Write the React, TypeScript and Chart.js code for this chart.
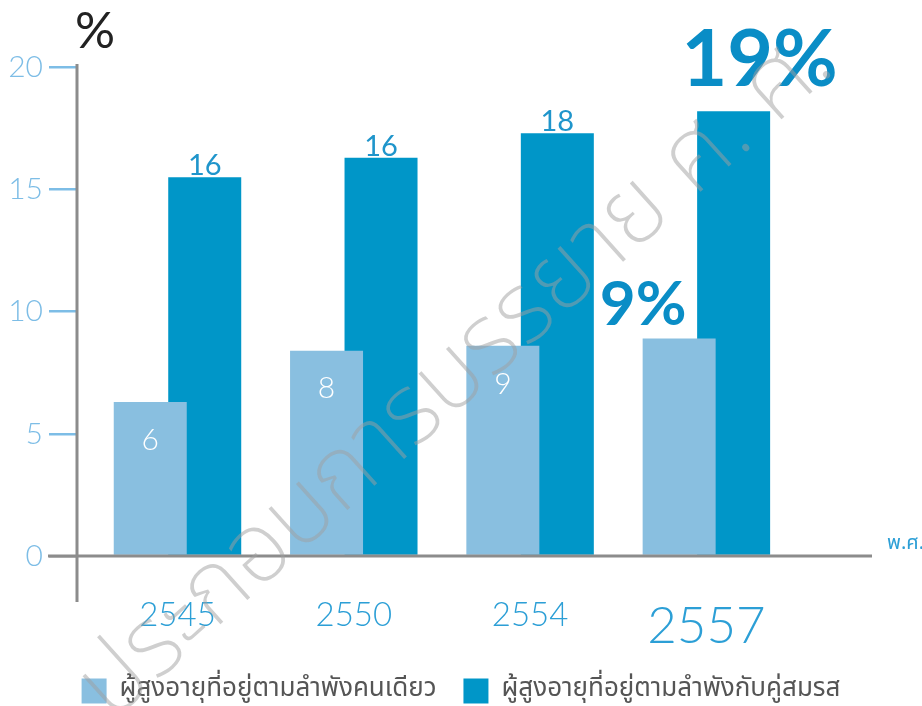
import React, { useEffect, useRef } from "react";
import { Chart, registerables } from "chart.js";

Chart.register(...registerables);

// ---- data ----
const years = ["2545", "2550", "2554", "2557"];
const livingAlone = [6.3, 8.4, 8.6, 8.9];
const withSpouse = [15.5, 16.3, 17.3, 18.2];
const aloneLabels = ["6", "8", "9", "9%"];
const spouseLabels = ["16", "16", "18", "19%"];
const seriesNames = [
  "ผู้สูงอายุที่อยู่ตามลำพังคนเดียว",
  "ผู้สูงอายุที่อยู่ตามลำพังกับคู่สมรส",
];
const yTicks = [0, 5, 10, 15, 20];
const highlightIndex = 3;
const unitLabel = "%";
const xUnitLabel = "พ.ศ.";
const watermarkText = "ประกอบการบรรยาย ศ. ศ.";

// ---- styles ----
const LIGHT = "#89bfe0";
const DARK = "#0096c8";
const TICK_BLUE = "#7dbde6";
const YEAR_BLUE = "#2c9fd6";
const LABEL_BLUE = "#1f95cb";
const BIG_BLUE = "#0a8dc6";
const AXIS_GRAY = "#8c8c8c";
const NUM_FONT = "Lato, 'Open Sans', sans-serif";
const THAI_FONT = "'Noto Sans Thai', 'Noto Sans', 'DejaVu Sans', sans-serif";

const decorPlugin = {
  id: "decor",
  afterDatasetsDraw(chart: any) {
    const { ctx, chartArea, scales } = chart;
    const zeroY = scales.y.getPixelForValue(0);
    ctx.save();
    // axes
    ctx.strokeStyle = AXIS_GRAY;
    ctx.lineWidth = 3;
    ctx.beginPath();
    ctx.moveTo(chartArea.left, chartArea.top + 4);
    ctx.lineTo(chartArea.left, zeroY + 46);
    ctx.moveTo(chartArea.left - 29, zeroY);
    ctx.lineTo(chartArea.right - 50, zeroY);
    ctx.stroke();

    // bar value labels
    const m0 = chart.getDatasetMeta(0);
    const m1 = chart.getDatasetMeta(1);
    m0.data.forEach((el: any, i: number) => {
      if (i === highlightIndex) {
        ctx.font = `bold 62px ${NUM_FONT}`;
        ctx.fillStyle = BIG_BLUE;
        ctx.textAlign = "center";
        ctx.textBaseline = "alphabetic";
        ctx.fillText(aloneLabels[i], el.x - 36, el.y - 14);
      } else {
        ctx.font = `300 30px ${NUM_FONT}`;
        ctx.fillStyle = "#ffffff";
        ctx.textAlign = "center";
        ctx.textBaseline = "middle";
        ctx.fillText(aloneLabels[i], el.x, el.y + 38);
      }
    });
    m1.data.forEach((el: any, i: number) => {
      ctx.textAlign = "center";
      ctx.textBaseline = "alphabetic";
      if (i === highlightIndex) {
        ctx.font = `bold 79px ${NUM_FONT}`;
        ctx.fillStyle = BIG_BLUE;
        ctx.fillText(spouseLabels[i], el.x + 26, el.y - 25);
      } else {
        ctx.font = `400 29px ${NUM_FONT}`;
        ctx.fillStyle = LABEL_BLUE;
        ctx.fillText(spouseLabels[i], el.x, el.y - 2);
      }
    });

    // unit labels
    ctx.font = `400 50px ${NUM_FONT}`;
    ctx.fillStyle = "#222222";
    ctx.textAlign = "left";
    ctx.textBaseline = "alphabetic";
    ctx.fillText(unitLabel, chartArea.left - 2, 48);

    ctx.font = `20px ${THAI_FONT}`;
    ctx.fillStyle = YEAR_BLUE;
    ctx.textBaseline = "middle";
    ctx.fillText(xUnitLabel, chartArea.right - 35, zeroY - 11);
    ctx.restore();
  },
  afterDraw(chart: any) {
    const { ctx } = chart;
    ctx.save();
    ctx.translate(112, 722);
    ctx.rotate((-42 * Math.PI) / 180);
    ctx.font = `200 98px ${THAI_FONT}`;
    ctx.fillStyle = "rgba(160,160,160,0.5)";
    ctx.textAlign = "left";
    ctx.textBaseline = "alphabetic";
    ctx.fillText(watermarkText, 0, 0);
    ctx.restore();
  },
};

export default function App() {
  const ref = useRef<HTMLCanvasElement | null>(null);

  useEffect(() => {
    if (!ref.current) return;
    const chart = new Chart(ref.current, {
      type: "bar",
      data: {
        datasets: [
          {
            label: seriesNames[0],
            data: livingAlone.map((v, i) => ({ x: i, y: v })),
            backgroundColor: LIGHT,
            borderWidth: 0,
          },
          {
            label: seriesNames[1],
            data: withSpouse.map((v, i) => ({ x: i, y: v })),
            backgroundColor: DARK,
            borderWidth: 0,
          },
        ],
      },
      options: {
        animation: false,
        responsive: false,
        events: [],
        categoryPercentage: 0.618,
        barPercentage: 1.34,
        layout: { padding: { top: 60, right: 0, left: 0, bottom: -8 } },
        scales: {
          x: {
            type: "linear",
            offset: false,
            min: -0.57,
            max: 4.223,
            afterBuildTicks: (s: any) => {
              s.ticks = years.map((_, i) => ({ value: i }));
            },
            afterFit: (s: any) => {
              s.height = 95;
            },
            grid: { display: false, drawTicks: false, offset: false },
            border: { display: false },
            ticks: {
              autoSkip: false,
              maxRotation: 0,
              padding: 40,
              color: YEAR_BLUE,
              callback: (_v: any, i: number) => years[i],
              font: (c: any) =>
                c.index === highlightIndex
                  ? { family: NUM_FONT, size: 51, weight: "300" }
                  : { family: NUM_FONT, size: 33, weight: "300" },
            },
          },
          y: {
            min: 0,
            max: 20.3,
            afterBuildTicks: (s: any) => {
              s.ticks = yTicks.map((v) => ({ value: v }));
            },
            afterFit: (s: any) => {
              s.width = 77;
            },
            grid: {
              drawOnChartArea: false,
              drawTicks: true,
              tickLength: 28,
              lineWidth: 2.5,
              color: (c: any) =>
                c.tick && c.tick.value === 0 ? AXIS_GRAY : TICK_BLUE,
            },
            border: { display: false },
            ticks: {
              padding: 6,
              color: TICK_BLUE,
              font: { family: NUM_FONT, size: 30, weight: "300" },
            },
          },
        },
        plugins: {
          legend: {
            position: "bottom",
            labels: {
              boxWidth: 25,
              boxHeight: 25,
              padding: 27,
              color: "#555555",
              font: { family: THAI_FONT, size: 26 },
            },
          },
          tooltip: { enabled: false },
        },
      },
      plugins: [decorPlugin],
    });
    return () => chart.destroy();
  }, []);

  return (
    <div style={{ position: "fixed", left: 0, top: 0, width: 922, height: 706, background: "#fff" }}>
      <canvas ref={ref} width={922} height={706} style={{ display: "block" }} />
    </div>
  );
}
